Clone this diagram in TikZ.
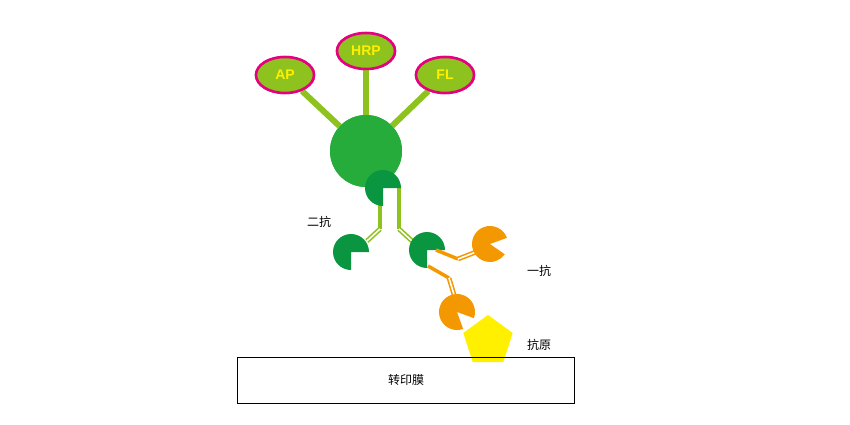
\documentclass[tikz,border=0pt]{standalone}
\usepackage{fontspec}
\setmainfont{Liberation Sans}
\newfontfamily\cjk{Noto Sans CJK SC}
\definecolor{lg}{HTML}{8DC21F}
\definecolor{dg}{HTML}{0A9641}
\definecolor{mg}{HTML}{26AC3A}
\definecolor{og}{HTML}{F39800}
\definecolor{ye}{HTML}{FFF000}
\definecolor{mag}{HTML}{E4007F}
\begin{document}
\begin{tikzpicture}[x=1pt,y=1pt,
  ell/.style={ellipse,draw=mag,line width=2.5pt,fill=lg,minimum width=58pt,minimum height=36pt,inner sep=0,text=ye,font=\bfseries\fontsize{14}{14}\selectfont},
  stem/.style={line width=6pt,lg},
  dbl/.style={double=white,double distance=1.6pt,line width=1.6pt},
  lbl/.style={font=\cjk\fontsize{12}{12}\selectfont,inner sep=0}]
\useasboundingbox (0,0) rectangle (850,-425);
\usetikzlibrary{shapes.geometric}
\node[ell] (ap) at (285,-75) {AP};
\node[ell] (hrp) at (366,-51) {HRP};
\node[ell] (fl) at (445,-75) {FL};
\node[circle,minimum size=72pt,inner sep=0,fill=mg] (c) at (366,-151) {};
\begin{scope}[on background layer/.try]
\end{scope}
\draw[stem] (c) -- (ap); \draw[stem] (c) -- (hrp); \draw[stem] (c) -- (fl);
\fill[mg] (c) circle (36pt);
\node[ell] at (285,-75) {AP};
\node[ell] at (366,-51) {HRP};
\node[ell] at (445,-75) {FL};
% secondary antibody stems
\coordinate (s1) at (380,-205);
\coordinate (s2) at (380,-229);
\coordinate (s3) at (367,-241);
\coordinate (t1) at (399,-188);
\coordinate (t2) at (399,-229);
\coordinate (t3) at (412,-241);
\draw[lg,line width=3.5pt] (s1) -- (s2); \draw[lg,line width=3.5pt] (t1) -- (t2);
\draw[lg,dbl] (s2) -- (s3); \draw[lg,dbl] (t2) -- (t3);
\fill[dg] (383,-188) -- ++(0:18) arc(0:270:18) -- cycle;
\fill[dg] (351,-252) -- ++(0:18) arc(0:270:18) -- cycle;
\fill[dg] (427,-250) -- ++(0:18) arc(0:270:18) -- cycle;
% primary antibody
\coordinate (o1) at (436,-250);
\coordinate (o2) at (458,-259);
\coordinate (o3) at (476,-252);
\coordinate (p1) at (428,-266);
\coordinate (p2) at (449,-278);
\coordinate (p3) at (455,-298);
\draw[og,line width=3.5pt] (o1) -- (o2); \draw[og,dbl] (o2) -- (o3);
\draw[og,line width=3.5pt] (p1) -- (p2); \draw[og,dbl] (p2) -- (p3);
\fill[og] (490,-244) -- ++(20:18) arc(20:325:18) -- cycle;
\fill[og] (457,-312) -- ++(-20:18) arc(-20:290:18) -- cycle;
\node[regular polygon,regular polygon sides=5,fill=ye,minimum size=52pt,inner sep=0] (ag) at (488,-341) {};
\node[draw,line width=0.8pt,minimum width=337pt,minimum height=46pt,inner sep=0] (m) at (405.5,-380) {};
\node[lbl] at (406,-380) {转印膜};
\node[lbl] at (319,-222) {二抗};
\node[lbl] at (539,-271) {一抗};
\node[lbl] at (539,-345) {抗原};
\end{tikzpicture}
\end{document}
